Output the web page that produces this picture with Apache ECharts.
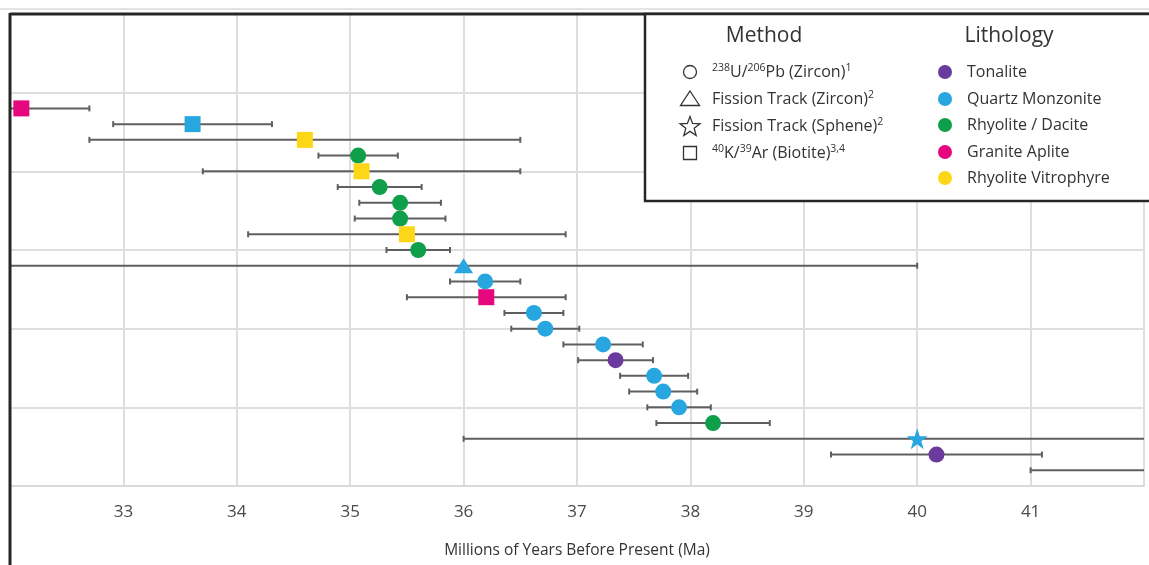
<!DOCTYPE html>
<html>
<head>
<meta charset="utf-8">
<script src="https://cdn.jsdelivr.net/npm/echarts@6/dist/echarts.min.js"></script>
<style>
  html, body { margin: 0; padding: 0; background: #fff; }
  #chart { width: 1149px; height: 565px; }
</style>
</head>
<body>
<div id="chart"></div>
<script>
// Sample ages (Ma), listed top row first
const ages = [32.10, 33.61, 34.60, 35.07, 35.10, 35.26, 35.44, 35.44, 35.50, 35.60, 36.00, 36.19,
              36.20, 36.62, 36.72, 37.23, 37.34, 37.68, 37.76, 37.90, 38.20, 40.00, 40.17, 43.00];
// Symmetric uncertainty (± Ma)
const errors = [0.60, 0.70, 1.90, 0.35, 1.40, 0.37, 0.36, 0.40, 1.40, 0.28, 4.00, 0.31,
                0.70, 0.26, 0.30, 0.35, 0.33, 0.30, 0.30, 0.28, 0.50, 4.00, 0.93, 2.00];
// Dating method of each sample
const methods = ['KAr', 'KAr', 'KAr', 'UPb', 'KAr', 'UPb', 'UPb', 'UPb', 'KAr', 'UPb', 'FTZ', 'UPb',
                 'KAr', 'UPb', 'UPb', 'UPb', 'UPb', 'UPb', 'UPb', 'UPb', 'UPb', 'FTS', 'UPb', 'UPb'];
// Lithology of each sample
const lithologies = ['Granite Aplite', 'Quartz Monzonite', 'Rhyolite Vitrophyre', 'Rhyolite / Dacite',
  'Rhyolite Vitrophyre', 'Rhyolite / Dacite', 'Rhyolite / Dacite', 'Rhyolite / Dacite',
  'Rhyolite Vitrophyre', 'Rhyolite / Dacite', 'Quartz Monzonite', 'Quartz Monzonite',
  'Granite Aplite', 'Quartz Monzonite', 'Quartz Monzonite', 'Quartz Monzonite',
  'Tonalite', 'Quartz Monzonite', 'Quartz Monzonite', 'Quartz Monzonite',
  'Rhyolite / Dacite', 'Quartz Monzonite', 'Tonalite', 'Tonalite'];

// Legend entries
const methodKeys = ['UPb', 'FTZ', 'FTS', 'KAr'];
const methodLabels = ['{sup|238}U/{sup|206}Pb (Zircon){sup|1}', 'Fission Track (Zircon){sup|2}',
                      'Fission Track (Sphene){sup|2}', '{sup|40}K/{sup|39}Ar (Biotite){sup|3,4}'];
const lithologyNames = ['Tonalite', 'Quartz Monzonite', 'Rhyolite / Dacite', 'Granite Aplite', 'Rhyolite Vitrophyre'];
const lithologyColors = ['#6a3a9c', '#27a6df', '#0f9f4a', '#e6077e', '#fdd617'];

// Axis ticks
const xMin = 32, xMax = 42, xStep = 1;
const yMin = 0, yMax = 30, yStep = 5;

const FONT = '"Open Sans", "Noto Sans", sans-serif';
const STAR = 'path://M50,0 L61.8,35.4 L99,35.4 L69,57.3 L80.4,92.7 L50,70.8 L19.6,92.7 L31,57.3 L1,35.4 L38.2,35.4 Z';
const methodSymbol = { UPb: 'circle', FTZ: 'triangle', FTS: STAR, KAr: 'rect' };
const methodSize = { UPb: 16, FTZ: [19, 15], FTS: 21, KAr: 16 };

const n = ages.length;
const rowOf = i => n - i;
const colorOf = name => lithologyColors[lithologyNames.indexOf(name)];

const errorData = ages.map((a, i) => [a - errors[i], a + errors[i], rowOf(i)]);

const markerSeries = methodKeys.map(key => ({
  type: 'scatter',
  name: key,
  symbol: methodSymbol[key],
  symbolSize: methodSize[key],
  z: 5,
  clip: true,
  itemStyle: { opacity: 1 },
  data: ages.map((a, i) => ({ i, a })).filter(d => methods[d.i] === key).map(d => ({
    value: [d.a, rowOf(d.i)],
    itemStyle: { color: colorOf(lithologies[d.i]), opacity: 1 }
  }))
}));

// Frame and legend graphics
const legendX = 645, legendTop = 14;
const graphics = [];
graphics.push({ type: 'line', shape: { x1: 0, y1: 9, x2: 1149, y2: 9 }, style: { stroke: '#e4e4e4', lineWidth: 2 }, z: 90 });
graphics.push({ type: 'line', shape: { x1: 10, y1: 14, x2: 1149, y2: 14 }, style: { stroke: '#262626', lineWidth: 3 }, z: 100 });
graphics.push({ type: 'line', shape: { x1: 10, y1: 13, x2: 10, y2: 565 }, style: { stroke: '#262626', lineWidth: 3 }, z: 100 });
graphics.push({ type: 'rect', shape: { x: legendX, y: legendTop, width: 560, height: 187 },
  style: { fill: '#fff', stroke: '#262626', lineWidth: 2.5 }, z: 100 });
graphics.push({ type: 'text', x: 764, y: 36, style: { text: 'Method', font: '21px ' + FONT, fill: '#333', align: 'center', verticalAlign: 'middle' }, z: 101 });
graphics.push({ type: 'text', x: 1009, y: 36, style: { text: 'Lithology', font: '21px ' + FONT, fill: '#333', align: 'center', verticalAlign: 'middle' }, z: 101 });

const methodRowsY = [72, 99, 126, 153];
const sym = { stroke: '#333', fill: 'none', lineWidth: 1.3 };
graphics.push({ type: 'circle', shape: { cx: 690, cy: methodRowsY[0], r: 6.5 }, style: sym, z: 101 });
graphics.push({ type: 'polygon', shape: { points: [[690, methodRowsY[1] - 8], [699.5, methodRowsY[1] + 6.5], [680.5, methodRowsY[1] + 6.5]] }, style: sym, z: 101 });
(function () {
  const pts = [];
  const cx = 690, cy = methodRowsY[2] + 1;
  for (let k = 0; k < 10; k++) {
    const r = k % 2 === 0 ? 10.5 : 4.4;
    const ang = -Math.PI / 2 + k * Math.PI / 5;
    pts.push([cx + r * Math.cos(ang), cy + r * Math.sin(ang)]);
  }
  graphics.push({ type: 'polygon', shape: { points: pts }, style: sym, z: 101 });
})();
graphics.push({ type: 'rect', shape: { x: 683.5, y: methodRowsY[3] - 6.5, width: 13, height: 13 }, style: sym, z: 101 });
methodLabels.forEach((t, k) => {
  graphics.push({ type: 'text', x: 712, y: methodRowsY[k], z: 101,
    style: { text: t, font: '16px ' + FONT, fill: '#333', verticalAlign: 'middle', lineHeight: 18,
      rich: { sup: { fontSize: 10.5, fontFamily: FONT, verticalAlign: 'top', lineHeight: 18, fill: '#333', padding: [0, 0, 6, 0] } } } });
});

const lithRowsY = [72, 99, 125, 152, 178];
lithologyNames.forEach((name, k) => {
  graphics.push({ type: 'circle', shape: { cx: 945, cy: lithRowsY[k], r: 7 }, style: { fill: lithologyColors[k] }, z: 101 });
  graphics.push({ type: 'text', x: 967, y: lithRowsY[k], z: 101,
    style: { text: name, font: '16px ' + FONT, fill: '#333', verticalAlign: 'middle' } });
});

const chart = echarts.init(document.getElementById('chart'), null, { renderer: 'canvas' });
chart.setOption({
  animation: false,
  backgroundColor: '#fff',
  grid: { left: 10, right: 5, top: 14, bottom: 79, containLabel: false },
  xAxis: {
    type: 'value', min: xMin, max: xMax, interval: xStep,
    name: 'Millions of Years Before Present (Ma)', nameLocation: 'middle', nameGap: 57,
    nameTextStyle: { fontFamily: FONT, fontSize: 15.5, color: '#333' },
    axisLine: { show: true, lineStyle: { color: '#d9d9d9', width: 2 } },
    axisTick: { show: false },
    axisLabel: { showMinLabel: false, showMaxLabel: false, margin: 18, fontFamily: FONT, fontSize: 17, color: '#4a4a4a' },
    splitLine: { show: true, lineStyle: { color: '#dedede', width: 2 } }
  },
  yAxis: {
    type: 'value', min: yMin, max: yMax, interval: yStep,
    axisLine: { show: false }, axisTick: { show: false }, axisLabel: { show: false },
    splitLine: { show: true, lineStyle: { color: '#dedede', width: 2 } }
  },
  series: [{
    type: 'custom',
    name: 'error',
    clip: true,
    z: 3,
    data: errorData,
    renderItem: function (params, api) {
      const lo = api.coord([api.value(0), api.value(2)]);
      const hi = api.coord([api.value(1), api.value(2)]);
      const st = { stroke: '#5f5f5f', lineWidth: 2 };
      const cap = 3;
      return {
        type: 'group',
        children: [
          { type: 'line', shape: { x1: lo[0], y1: lo[1], x2: hi[0], y2: hi[1] }, style: st },
          { type: 'line', shape: { x1: lo[0], y1: lo[1] - cap, x2: lo[0], y2: lo[1] + cap }, style: st },
          { type: 'line', shape: { x1: hi[0], y1: hi[1] - cap, x2: hi[0], y2: hi[1] + cap }, style: st }
        ]
      };
    }
  }].concat(markerSeries),
  graphic: graphics
});
</script>
</body>
</html>
